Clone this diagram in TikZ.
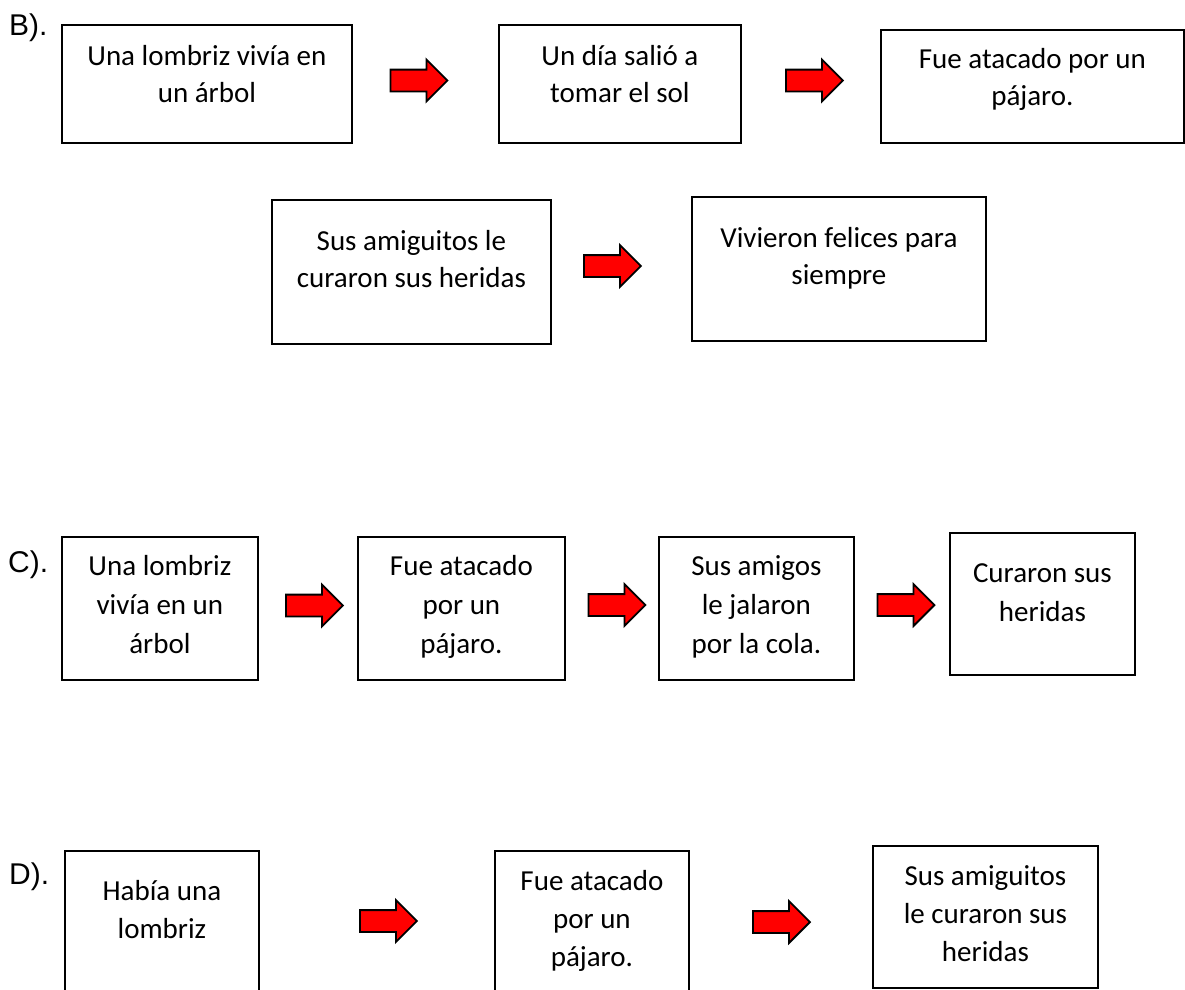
\documentclass[tikz,border=0pt]{standalone}
\usepackage{fontspec}
\setmainfont{Carlito}
\newfontfamily\labelfont{Liberation Sans}
\usetikzlibrary{shapes.arrows}
\tikzset{
  storybox/.style={draw=black, line width=1.8pt, rectangle, inner sep=0pt, anchor=north west,
    font=\fontsize{29}{37}\selectfont},
  rowC/.style={font=\fontsize{29}{39}\selectfont},
  rowD/.style={font=\fontsize{29}{38}\selectfont},
  redarrow/.style={single arrow, draw=black, fill=red, line width=1.8pt,
    minimum height=57pt, inner xsep=0pt, inner ysep=10pt,
    single arrow head extend=10pt, single arrow tip angle=90, single arrow head indent=0pt},
  tag/.style={anchor=base west, inner sep=0pt, font=\labelfont\fontsize{30}{36}\selectfont}
}
\begin{document}
\begin{tikzpicture}[x=1pt,y=-1pt]
\useasboundingbox (0,0) rectangle (1185,989);
\clip (0,0) rectangle (1185,989);
\fill[white] (0,0) rectangle (1185,989);

% ---- B row
\node[tag] (lb) at (9,35) {B).};
\node[storybox] (b1) at (61,24) {\parbox[t][118pt][t]{290pt}{\centering\rule{0pt}{41pt}Una lombriz vivía en\\un árbol}};
\node[storybox] (b2) at (498,24) {\parbox[t][118pt][t]{242pt}{\centering\rule{0pt}{41pt}Un día salió a\\tomar el sol}};
\node[storybox] (b3) at (880,29) {\parbox[t][113pt][t]{303pt}{\centering\rule{0pt}{39pt}Fue atacado por un\\pájaro.}};
\node[storybox] (b4) at (271,199) {\parbox[t][144pt][t]{279pt}{\centering\rule{0pt}{51pt}Sus amiguitos le\\curaron sus heridas}};
\node[storybox] (b5) at (691,196) {\parbox[t][144pt][t]{294pt}{\centering\rule{0pt}{51pt}Vivieron felices para\\siempre}};
\node[redarrow] (ab1) at (413.5,80.5) {};
\node[redarrow] (ab2) at (809,80.5) {};
\node[redarrow] (ab3) at (607,266) {};

% ---- C row
\node[tag] (lc) at (8,572) {C).};
\node[storybox,rowC] (c1) at (61,536) {\parbox[t][143pt][t]{196pt}{\centering\rule{0pt}{39pt}Una lombriz\\vivía en un\\árbol}};
\node[storybox,rowC] (c2) at (357,536) {\parbox[t][143pt][t]{207pt}{\centering\rule{0pt}{39pt}Fue atacado\\por un\\pájaro.}};
\node[storybox,rowC] (c3) at (658,536) {\parbox[t][143pt][t]{195pt}{\centering\rule{0pt}{39pt}Sus amigos\\le jalaron\\por la cola.}};
\node[storybox,rowC] (c4) at (949,532) {\parbox[t][142pt][t]{185pt}{\centering\rule{0pt}{50pt}Curaron sus\\heridas}};
\node[redarrow] (ac1) at (309,605.5) {};
\node[redarrow] (ac2) at (611.5,605) {};
\node[redarrow] (ac3) at (900.5,605) {};

% ---- D row
\node[tag] (ld) at (9,884) {D).};
\node[storybox,rowD] (d1) at (64,850) {\parbox[t][170pt][t]{194pt}{\centering\rule{0pt}{50pt}Había una\\lombriz}};
\node[storybox,rowD] (d2) at (494,850) {\parbox[t][170pt][t]{194pt}{\centering\rule{0pt}{40pt}Fue atacado\\por un\\pájaro.}};
\node[storybox,rowD] (d3) at (872,845) {\parbox[t][142pt][t]{225pt}{\centering\rule{0pt}{40pt}Sus amiguitos\\le curaron sus\\heridas}};
\node[redarrow] (ad1) at (383,921) {};
\node[redarrow] (ad2) at (776,922) {};
\end{tikzpicture}
\end{document}
